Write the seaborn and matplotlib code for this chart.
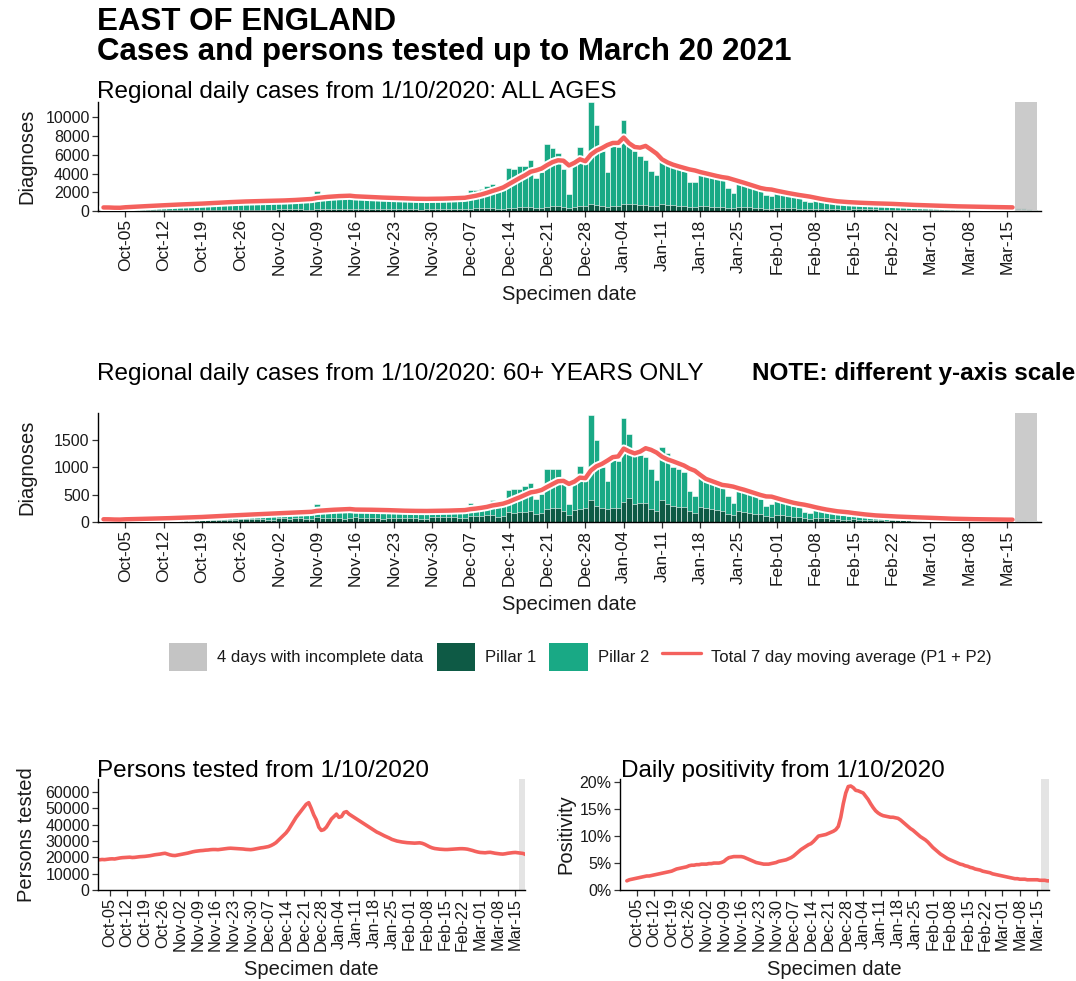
import numpy as np
import pandas as pd
import matplotlib
matplotlib.use("Agg")
import matplotlib.pyplot as plt
import seaborn as sns
from matplotlib import patheffects as pe
from matplotlib.patches import Patch
from matplotlib.lines import Line2D

sns.set_theme(style="ticks")
plt.rcParams["font.family"] = ["Liberation Sans", "DejaVu Sans"]

# ---------------- data (Oct 1 2020 .. Mar 20 2021, daily) ----------------
dates = pd.date_range("2020-10-01", "2021-03-20", freq="D")

# All ages, Pillar 1
pillar1_all = [
    70, 65, 50, 55,
    80, 85, 80, 85, 80, 60, 65,
    95, 100, 95, 100, 95, 75, 80,
    120, 125, 120, 125, 120, 95, 100,
    140, 145, 140, 150, 145, 115, 120,
    170, 175, 170, 180, 175, 140, 150,
    210, 215, 205, 210, 200, 165, 175,
    220, 215, 210, 205, 200, 165, 170,
    210, 205, 200, 200, 195, 160, 165,
    220, 215, 215, 220, 225, 180, 190,
    260, 270, 280, 290, 300, 240, 260,
    360, 370, 380, 390, 420, 330, 350,
    480, 500, 520, 450, 300, 450, 500,
    560, 700, 620, 560, 420, 550, 560,
    780, 750, 700, 680, 650, 520, 500,
    700, 650, 600, 580, 560, 420, 400,
    520, 500, 480, 450, 430, 330, 280,
    420, 400, 380, 360, 340, 260, 240,
    340, 320, 300, 280, 260, 200, 180,
    250, 240, 230, 220, 210, 160, 150,
    200, 190, 180, 170, 165, 130, 120,
    160, 150, 145, 140, 135, 105, 100,
    130, 125, 120, 115, 110, 85, 80,
    110, 105, 100, 98, 95, 75, 70,
    95, 90, 80, 70, 50, 25,
]
# All ages, Pillar 2
pillar2_all = [
    310, 305, 250, 275,
    540, 515, 530, 535, 520, 420, 455,
    765, 720, 705, 690, 665, 545, 580,
    960, 925, 900, 875, 860, 725, 760,
    1110, 1055, 1010, 970, 955, 785, 830,
    1180, 1145, 1130, 1150, 1175, 1010, 1050,
    1890, 1535, 1495, 1440, 1400, 1135, 1175,
    1430, 1335, 1290, 1245, 1200, 985, 1030,
    1240, 1195, 1150, 1130, 1105, 940, 985,
    1280, 1235, 1205, 1230, 1255, 1070, 1160,
    1990, 1930, 2120, 2360, 2550, 2260, 2540,
    4240, 4100, 4420, 4430, 4980, 3170, 3830,
    6670, 6200, 5680, 4050, 1550, 5050, 6300,
    5140, 10950, 8530, 5840, 3730, 6500, 6290,
    8920, 6550, 5750, 5220, 4800, 3730, 3400,
    4700, 4350, 4180, 4070, 3740, 2680, 2700,
    3680, 3500, 3370, 3200, 3020, 2170, 1620,
    2580, 2350, 2170, 1990, 1810, 1440, 1310,
    1710, 1580, 1450, 1320, 1190, 850, 770,
    950, 860, 820, 780, 720, 560, 500,
    750, 710, 680, 660, 635, 490, 460,
    590, 550, 525, 500, 475, 375, 340,
    470, 435, 410, 385, 370, 295, 270,
    390, 365, 350, 332, 315, 245, 230,
    325, 300, 260, 210, 150, 65,
]
# 60+ years, Pillar 1
pillar1_60 = [
    20, 18, 14, 15,
    26, 26, 25, 26, 25, 19, 21,
    34, 34, 33, 34, 33, 26, 28,
    45, 44, 43, 44, 42, 34, 36,
    55, 54, 52, 54, 52, 42, 44,
    65, 64, 62, 64, 64, 52, 56,
    85, 80, 78, 76, 75, 62, 65,
    85, 82, 80, 78, 75, 62, 64,
    80, 78, 76, 76, 74, 60, 62,
    88, 85, 84, 86, 88, 72, 76,
    115, 110, 115, 120, 130, 100, 110,
    180, 170, 175, 185, 200, 150, 165,
    240, 250, 250, 200, 125, 210, 230,
    260, 410, 290, 260, 230, 250, 260,
    370, 445, 320, 350, 350, 230, 200,
    395, 320, 290, 270, 270, 200, 170,
    270, 250, 230, 210, 200, 150, 125,
    200, 180, 165, 155, 140, 105, 100,
    135, 120, 110, 100, 90, 65, 60,
    80, 72, 66, 60, 55, 42, 38,
    48, 45, 42, 40, 38, 28, 26,
    35, 33, 31, 29, 27, 20, 19,
    25, 23, 21, 20, 19, 15, 14,
    19, 18, 17, 16, 15, 12, 11,
    16, 15, 13, 11, 8, 4,
]
# 60+ years, Pillar 2
pillar2_60 = [
    30, 30, 24, 25,
    44, 42, 41, 42, 40, 31, 34,
    61, 58, 57, 58, 57, 44, 47,
    90, 86, 85, 86, 83, 66, 69,
    115, 111, 108, 111, 108, 88, 91,
    135, 131, 128, 131, 131, 108, 114,
    235, 165, 162, 159, 155, 128, 135,
    165, 158, 150, 147, 140, 113, 116,
    145, 137, 134, 134, 131, 110, 113,
    147, 140, 136, 139, 142, 118, 124,
    235, 190, 205, 220, 280, 200, 220,
    400, 430, 425, 465, 520, 270, 355,
    730, 720, 710, 500, 205, 510, 790,
    640, 1540, 1210, 740, 520, 920, 850,
    1530, 1155, 920, 880, 830, 730, 560,
    975, 940, 710, 690, 640, 370, 310,
    560, 510, 510, 490, 460, 330, 225,
    420, 390, 355, 335, 280, 195, 220,
    275, 250, 230, 200, 190, 125, 110,
    160, 143, 134, 125, 115, 78, 72,
    92, 85, 78, 75, 72, 52, 49,
    65, 62, 59, 56, 53, 40, 36,
    45, 42, 39, 38, 36, 27, 26,
    36, 32, 31, 30, 29, 22, 21,
    32, 30, 27, 21, 14, 6,
]
# Persons tested (smoothed)
persons_tested = [
    18500, 18700, 18600, 18800,
    19000, 19100, 19000, 19300, 19600, 19800, 19900,
    20000, 20100, 19900, 20000, 20200, 20400, 20500,
    20600, 20800, 21000, 21300, 21600, 21800, 22000,
    22300, 22500, 22000, 21500, 21200, 21100, 21400,
    21700, 22000, 22300, 22600, 23000, 23400, 23700,
    23900, 24100, 24200, 24400, 24500, 24700, 24800,
    24800, 24700, 24900, 25100, 25300, 25500, 25600,
    25500, 25400, 25300, 25200, 25100, 24900, 24800,
    24700, 24900, 25200, 25500, 25800, 26000, 26300,
    26600, 27200, 28000, 29000, 30500, 32000, 33500,
    35000, 37000, 39500, 42000, 44500, 46500, 48500,
    50500, 52500, 53500, 50000, 46000, 43000, 38500,
    36500, 37000, 38500, 41000, 43500, 45000, 46500,
    44500, 45000, 47500, 48000, 46500, 45500, 44500,
    43500, 42500, 41500, 40500, 39500, 38500, 37500,
    36500, 35500, 34800, 34000, 33200, 32500, 31800,
    31000, 30500, 30000, 29700, 29400, 29200, 29000,
    28900, 28800, 28700, 28800, 28900, 28600, 28000,
    27200, 26400, 25800, 25400, 25200, 25000, 24900,
    24800, 24800, 24900, 25000, 25100, 25200, 25300,
    25300, 25200, 25000, 24600, 24200, 23700, 23300,
    23000, 22900, 22800, 23000, 23100, 22800, 22500,
    22300, 22100, 22000, 22200, 22500, 22700, 22900,
    23000, 22800, 22600, 22400, 21800, 20800,
]
# Daily positivity (%)
positivity = [
    1.7, 1.9, 2.0, 2.1,
    2.2, 2.3, 2.4, 2.5, 2.6, 2.6, 2.7,
    2.8, 2.9, 3.0, 3.1, 3.2, 3.3, 3.4,
    3.5, 3.7, 3.9, 4.0, 4.1, 4.2, 4.3,
    4.5, 4.6, 4.6, 4.7, 4.7, 4.8, 4.8,
    4.8, 4.9, 4.9, 5.0, 5.0, 5.0, 5.1,
    5.3, 5.7, 6.0, 6.1, 6.2, 6.2, 6.2,
    6.2, 6.1, 5.9, 5.7, 5.5, 5.3, 5.1,
    5.0, 4.9, 4.8, 4.8, 4.8, 4.9, 5.0,
    5.1, 5.3, 5.4, 5.5, 5.6, 5.8, 6.0,
    6.3, 6.7, 7.1, 7.5, 7.8, 8.1, 8.4,
    8.6, 9.0, 9.5, 10.0, 10.1, 10.2, 10.3,
    10.5, 10.7, 10.9, 11.2, 11.8, 13.5, 16.0,
    18.0, 19.2, 19.3, 19.0, 18.5, 18.4, 18.2,
    18.0, 17.4, 16.8, 16.0, 15.3, 14.7, 14.3,
    14.0, 13.8, 13.7, 13.6, 13.5, 13.5, 13.4,
    13.3, 13.0, 12.6, 12.2, 11.8, 11.4, 11.1,
    10.7, 10.3, 9.9, 9.6, 9.3, 8.9, 8.4,
    7.9, 7.5, 7.1, 6.7, 6.4, 6.1, 5.8,
    5.6, 5.4, 5.2, 5.0, 4.8, 4.7, 4.5,
    4.4, 4.2, 4.1, 3.9, 3.8, 3.7, 3.5,
    3.4, 3.3, 3.2, 3.0, 2.9, 2.8, 2.7,
    2.6, 2.5, 2.4, 2.3, 2.2, 2.1, 2.1,
    2.0, 2.0, 2.0, 1.9, 1.9, 1.9, 1.9,
    1.9, 1.8, 1.8, 1.8, 1.7, 1.7,
]

cases_yticks_all = [0, 2000, 4000, 6000, 8000, 10000]
cases_yticks_60 = [0, 500, 1000, 1500]
tested_yticks = [0, 10000, 20000, 30000, 40000, 50000, 60000]
positivity_yticks = [0, 5, 10, 15, 20]
incomplete_days = 4

# ---------------- styling ----------------
DARK = "#0e5a45"
TEAL = "#19a985"
RED = "#f4615d"
GREY = "#c4c4c4"
TXT = "#1a1a1a"

W, H = 1076, 981
fig = plt.figure(figsize=(W / 100, H / 100), dpi=100)


def box(l, t, r, b):
    return [l / W, 1 - b / H, (r - l) / W, (b - t) / H]


days = np.arange(len(dates))
mondays = [int(d) for d in days if dates[d].dayofweek == 0 and d <= 165]
monday_labels = [dates[d].strftime("%b-%d") for d in mondays]
last_complete = len(dates) - incomplete_days - 1


def style_axis(ax, l, t, r, b, xlim, ylim, yticks, ylabels, ylab, ylab_x,
               xlab_top, xsize):
    ax.set_xlim(*xlim)
    ax.set_ylim(*ylim)
    ax.set_xticks(mondays)
    ax.set_xticklabels(monday_labels, rotation=90)
    ax.set_yticks(yticks)
    ax.set_yticklabels(ylabels)
    ax.tick_params(axis="both", length=4, width=0.9, color="#333333",
                   labelcolor=TXT, pad=2)
    ax.tick_params(axis="y", labelsize=11.5)
    ax.tick_params(axis="x", labelsize=xsize)
    for s in ["top", "right"]:
        ax.spines[s].set_visible(False)
    for s in ["left", "bottom"]:
        ax.spines[s].set_color("black")
        ax.spines[s].set_linewidth(1.0)
    ax.set_ylabel(ylab, fontsize=14.5, color=TXT)
    ax.yaxis.set_label_coords((ylab_x - l) / (r - l), 0.5)
    ax.set_xlabel("Specimen date", fontsize=14.5, color=TXT)
    ax.xaxis.set_label_coords(0.5, -(xlab_top - b) / (b - t))
    ax.set_facecolor("white")
    ax.grid(False)


def cases_panel(rect, p1, p2, yticks, ytop, xlab_top):
    l, t, r, b = rect
    ax = fig.add_axes(box(l, t, r, b))
    df = pd.DataFrame({"day": days, "p1": p1, "total": np.array(p1) + np.array(p2)})
    sns.barplot(data=df, x="day", y="total", native_scale=True, width=1.0,
                color=TEAL, saturation=1, edgecolor="white", linewidth=0.4,
                errorbar=None, ax=ax)
    sns.barplot(data=df, x="day", y="p1", native_scale=True, width=1.0,
                color=DARK, saturation=1, edgecolor="white", linewidth=0.4,
                errorbar=None, ax=ax)
    df["ma"] = df["total"].rolling(7, min_periods=1).mean()
    dfm = df[df["day"] <= last_complete]
    sns.lineplot(data=dfm, x="day", y="ma", color=RED, linewidth=3.2, ax=ax)
    ln = ax.lines[-1]
    ln.set_path_effects([pe.Stroke(linewidth=6.0, foreground="white"), pe.Normal()])
    ln.set_zorder(4)
    ax.axvspan(last_complete + 0.5, len(dates) - 0.5, color=GREY, alpha=0.88,
               lw=0, zorder=5)
    style_axis(ax, l, t, r, b, (-1.0, 171.2), (0, ytop), yticks,
               [str(v) for v in yticks], "Diagnoses", 36, xlab_top, 12.5)
    return ax


ax1 = cases_panel((98, 102, 1041, 211), pillar1_all, pillar2_all,
                  cases_yticks_all, 11650, 285)
ax2 = cases_panel((98, 413, 1041, 522), pillar1_60, pillar2_60,
                  cases_yticks_60, 1990, 595)

# persons tested
l, t, r, b = 98, 779, 525, 890
ax3 = fig.add_axes(box(l, t, r, b))
ax3.axvspan(last_complete + 0.5, len(dates) - 0.5, color=GREY, alpha=0.45, lw=0, zorder=0)
sns.lineplot(x=days, y=persons_tested, color=RED, linewidth=2.6, ax=ax3)
style_axis(ax3, l, t, r, b, (-0.6, 168.8), (0, 68000), tested_yticks,
           [str(v) for v in tested_yticks], "Persons tested", 36, 960, 11.8)

# positivity
l, t, r, b = 620, 779, 1049, 890
ax4 = fig.add_axes(box(l, t, r, b))
ax4.axvspan(last_complete + 0.5, len(dates) - 0.5, color=GREY, alpha=0.45, lw=0, zorder=0)
sns.lineplot(x=days, y=positivity, color=RED, linewidth=2.6, ax=ax4)
style_axis(ax4, l, t, r, b, (-2.75, 169.7), (0, 20.6), positivity_yticks,
           [f"{v}%" for v in positivity_yticks], "Positivity", 575, 960, 11.8)

# titles
fig.text(97 / W, 1 - 30 / H, "EAST OF ENGLAND", fontsize=22.5, fontweight="bold",
         color="black", va="baseline", ha="left")
fig.text(97 / W, 1 - 60 / H, "Cases and persons tested up to March 20 2021",
         fontsize=22.5, fontweight="bold", color="black", va="baseline", ha="left")
fig.text(97 / W, 1 - 98 / H, "Regional daily cases from 1/10/2020: ALL AGES",
         fontsize=17.5, color="black", va="baseline", ha="left")
fig.text(97 / W, 1 - 380 / H, "Regional daily cases from 1/10/2020: 60+ YEARS ONLY",
         fontsize=17.5, color="black", va="baseline", ha="left")
fig.text(752 / W, 1 - 380 / H, "NOTE: different y-axis scale", fontsize=17.5,
         fontweight="bold", color="black", va="baseline", ha="left")
fig.text(97 / W, 1 - 777 / H, "Persons tested from 1/10/2020", fontsize=17.5,
         color="black", va="baseline", ha="left")
fig.text(621 / W, 1 - 777 / H, "Daily positivity from 1/10/2020", fontsize=17.5,
         color="black", va="baseline", ha="left")

# legend
handles = [
    Patch(facecolor=GREY, edgecolor="none"),
    Patch(facecolor=DARK, edgecolor="none"),
    Patch(facecolor=TEAL, edgecolor="none"),
    Line2D([0], [0], color=RED, linewidth=2.4),
]
labels = ["4 days with incomplete data", "Pillar 1", "Pillar 2",
          "Total 7 day moving average (P1 + P2)"]
fig.legend(handles, labels, loc="center", bbox_to_anchor=(580 / W, 1 - 657 / H),
           ncol=4, frameon=False, fontsize=12, handlelength=2.3, handleheight=2.2,
           handletextpad=0.6, columnspacing=0.8, labelcolor=TXT)

fig.savefig("out.png", dpi=100, facecolor="white")
